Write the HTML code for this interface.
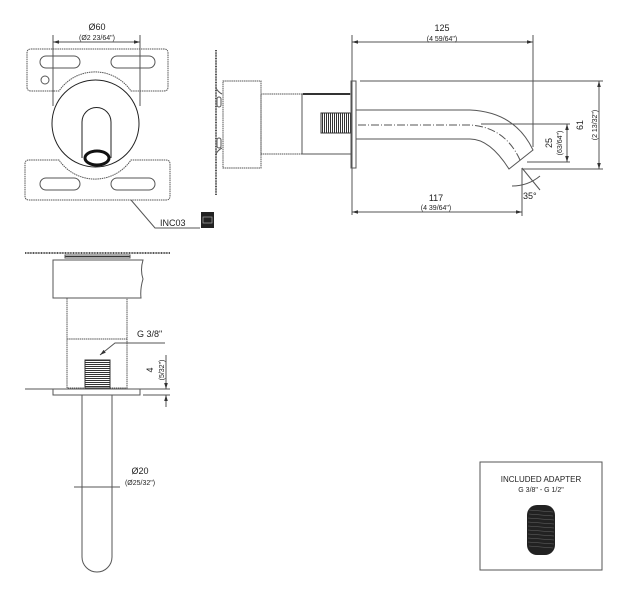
<!DOCTYPE html>
<html><head><style>
html,body{margin:0;padding:0;background:#fff;}
svg{display:block;}
text{font-family:"Liberation Sans",sans-serif;fill:#222;}
</style></head><body>
<svg width="622" height="591" viewBox="0 0 622 591" xmlns="http://www.w3.org/2000/svg">
<defs>
<marker id="a" viewBox="0 0 10 10" refX="10" refY="5" markerWidth="6" markerHeight="6" orient="auto-start-reverse"><path d="M0,2 L10,5 L0,8z" fill="#333"/></marker>
<pattern id="th" width="2" height="2" patternUnits="userSpaceOnUse"><rect width="2" height="1" fill="#333"/></pattern>
<pattern id="tv" width="2" height="2" patternUnits="userSpaceOnUse"><rect width="1" height="2" fill="#333"/></pattern>
</defs>
<g fill="none" stroke="#555" stroke-width="1">
<!-- front plate -->
<path d="M31,49 H164 Q168,49 168,53 V87 Q168,91 164,91 H131 A43.5,43.5 0 0 0 59,91 H31 Q27,91 27,87 V53 Q27,49 31,49 Z" stroke-dasharray="1.5,0.7"/>
<path d="M29,160 H59 A43.5,43.5 0 0 0 131,160 H166 Q170,160 170,164 V196 Q170,200 166,200 H29 Q25,200 25,196 V164 Q25,160 29,160 Z" stroke-dasharray="1.5,0.7"/>
<rect x="40" y="56" width="40" height="12" rx="6"/><rect x="111" y="56" width="44" height="12" rx="6"/>
<circle cx="45" cy="80" r="4"/>
<rect x="40" y="178" width="40" height="12" rx="6"/><rect x="111" y="178" width="44" height="12" rx="6"/>
<circle cx="95.5" cy="123.5" r="43.5" stroke="#222"/>
<path d="M82,158 V122 A14.5,14.5 0 0 1 111,122 V158" stroke="#222"/>
<ellipse cx="97" cy="158" rx="12" ry="7" stroke="#111" stroke-width="3"/>
<line x1="53" y1="35" x2="53" y2="106"/><line x1="140" y1="35" x2="140" y2="106"/>
<line x1="53" y1="42" x2="140" y2="42" marker-start="url(#a)" marker-end="url(#a)"/>
<polyline points="131,200 155,228 200,228"/>
<!-- side view -->
<line x1="216" y1="50" x2="216" y2="195" stroke-width="2" stroke-dasharray="1,0.6"/>
<path d="M216,88 Q218,92 222,94 M216,154 Q218,150 222,148" />
<rect x="217" y="97" width="4" height="10" rx="2"/><rect x="217" y="138" width="4" height="10" rx="2"/>
<rect x="223" y="81" width="38" height="87" stroke-dasharray="1.5,0.6"/>
<rect x="261" y="94" width="41" height="60" stroke-dasharray="1.5,0.6"/>
<rect x="302" y="94" width="49" height="60"/>
<line x1="303" y1="94" x2="350" y2="94" stroke="#333" stroke-width="2"/>
<rect x="321" y="113" width="30" height="20" fill="url(#tv)" stroke="#333"/>
<rect x="351" y="81" width="5" height="87"/>
<path d="M356,110 H470 Q515,112 533,150 L509,169 Q490,139 470,139 H356"/>
<path d="M358,125 H470 Q505,127 520,160" stroke-dasharray="8,2,1,2"/>
<line x1="352" y1="35" x2="352" y2="215"/><line x1="533" y1="35" x2="533" y2="147"/>
<line x1="352" y1="42" x2="533" y2="42" marker-start="url(#a)" marker-end="url(#a)"/>
<line x1="360" y1="81" x2="603" y2="81"/><line x1="522" y1="169" x2="603" y2="169"/>
<line x1="599" y1="81" x2="599" y2="169" marker-start="url(#a)" marker-end="url(#a)"/>
<line x1="481" y1="124" x2="570" y2="124"/><line x1="527" y1="162" x2="570" y2="162"/>
<line x1="567" y1="124" x2="567" y2="162" marker-start="url(#a)" marker-end="url(#a)"/>
<line x1="522" y1="168" x2="522" y2="216"/>
<line x1="352" y1="212" x2="522" y2="212" marker-start="url(#a)" marker-end="url(#a)"/>
<line x1="522" y1="168" x2="540" y2="190"/>
<path d="M512,186 Q528,186 540,176"/>
<!-- bottom view -->
<line x1="25" y1="253" x2="170" y2="253" stroke-width="2" stroke-dasharray="1,0.6"/>
<rect x="65" y="255" width="65" height="3" fill="url(#th)"/>
<path d="M53,260 H143 Q140,270 143,279 Q140,289 141,298 H53 Z"/>
<rect x="67" y="298" width="60" height="90" stroke-dasharray="1.5,0.6"/>
<line x1="67" y1="339" x2="127" y2="339" stroke-dasharray="1.5,0.6"/>
<rect x="85" y="360" width="25" height="28" fill="url(#th)" stroke="#333"/>
<line x1="25" y1="389" x2="143" y2="389"/><line x1="143" y1="389" x2="170" y2="389"/>
<line x1="143" y1="395" x2="170" y2="395"/>
<rect x="53" y="389" width="87" height="6"/>
<path d="M82,395 V557 A15,15 0 0 0 112,557 V395"/>
<polyline points="165,343 115,343 100,355" marker-end="url(#a)"/>
<line x1="166" y1="355" x2="166" y2="389" marker-end="url(#a)"/>
<line x1="166" y1="407" x2="166" y2="395" marker-end="url(#a)"/>
<line x1="74" y1="487" x2="120" y2="487"/>
<!-- adapter -->
<rect x="480" y="462" width="122" height="108"/>
</g>
<rect x="201" y="212" width="13" height="16" fill="#222"/>
<rect x="203" y="217" width="9" height="6" fill="none" stroke="#aaa" stroke-width="0.7"/>
<rect x="527" y="505" width="28" height="50" rx="10" fill="#222"/>
<g stroke="#666" stroke-width="0.6">
<line x1="529" y1="510" x2="553" y2="512"/><line x1="529" y1="514" x2="553" y2="516"/><line x1="528" y1="518" x2="554" y2="520"/><line x1="528" y1="522" x2="554" y2="524"/><line x1="528" y1="526" x2="554" y2="528"/><line x1="528" y1="530" x2="554" y2="532"/><line x1="528" y1="534" x2="554" y2="536"/><line x1="528" y1="538" x2="554" y2="540"/><line x1="528" y1="542" x2="554" y2="544"/><line x1="529" y1="546" x2="553" y2="548"/>
</g>
<g text-anchor="middle">
<text x="97" y="30" font-size="9">Ø60</text>
<text x="97" y="40" font-size="7">(Ø2 23/64")</text>
<text x="442" y="31" font-size="9">125</text>
<text x="442" y="41" font-size="7">(4 59/64")</text>
<text x="436" y="201" font-size="9">117</text>
<text x="436" y="210" font-size="7">(4 39/64")</text>
<text x="541" y="482" font-size="8">INCLUDED ADAPTER</text>
<text x="541" y="492" font-size="7">G 3/8" - G 1/2"</text>
<text x="140" y="474" font-size="9">Ø20</text>
<text x="140" y="485" font-size="7">(Ø25/32")</text>
</g>
<text x="160" y="226" font-size="9">INC03</text>
<text x="523" y="199" font-size="9">35°</text>
<text x="137" y="337" font-size="9">G 3/8"</text>
<text transform="translate(583,125) rotate(-90)" font-size="9" text-anchor="middle">61</text>
<text transform="translate(597,125) rotate(-90)" font-size="7" text-anchor="middle">(2 13/32")</text>
<text transform="translate(552,143) rotate(-90)" font-size="9" text-anchor="middle">25</text>
<text transform="translate(562,143) rotate(-90)" font-size="7" text-anchor="middle">(63/64")</text>
<text transform="translate(153,370) rotate(-90)" font-size="9" text-anchor="middle">4</text>
<text transform="translate(164,370) rotate(-90)" font-size="7" text-anchor="middle">(5/32")</text>
</svg>
</body></html>
